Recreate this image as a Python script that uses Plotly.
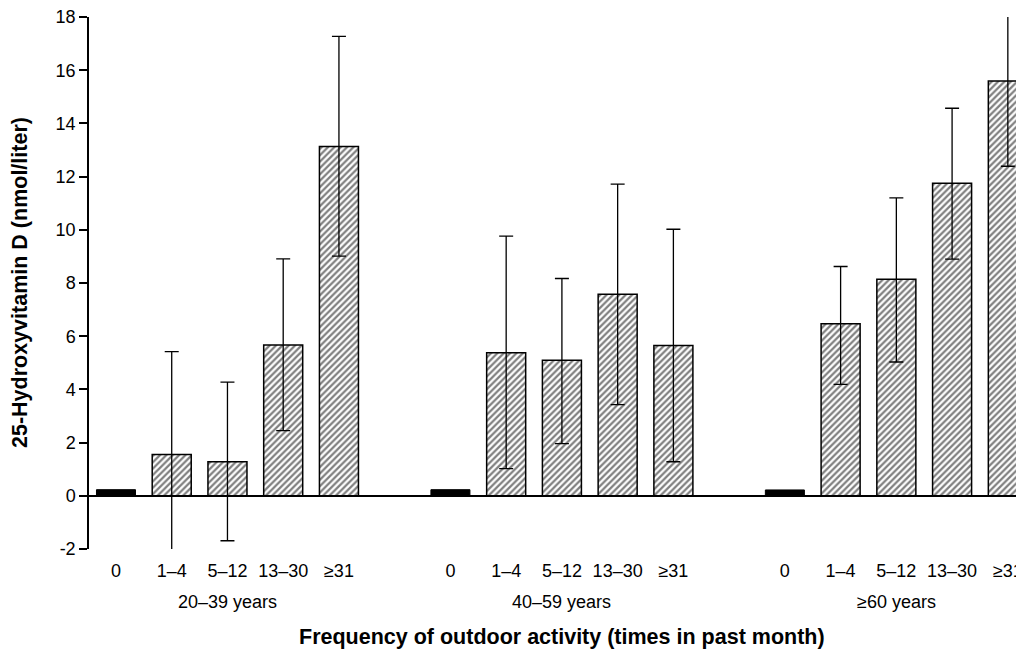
import plotly.graph_objects as go

# Data
groups = ["20\u201339 years", "40\u201359 years", "\u226560 years"]
categories = ["0", "1\u20134", "5\u201312", "13\u201330", "\u226531"]

means = {
    "20\u201339 years": [0.23, 1.55, 1.28, 5.67, 13.13],
    "40\u201359 years": [0.23, 5.38, 5.10, 7.58, 5.65],
    "\u226560 years":   [0.22, 6.47, 8.14, 11.75, 15.59],
}
upper = {
    "20\u201339 years": [0.23, 5.42, 4.27, 8.91, 17.27],
    "40\u201359 years": [0.23, 9.76, 8.17, 11.72, 10.02],
    "\u226560 years":   [0.22, 8.62, 11.20, 14.57, 18.15],
}
lower = {
    "20\u201339 years": [0.23, -2.16, -1.69, 2.45, 9.01],
    "40\u201359 years": [0.23, 1.02, 1.96, 3.43, 1.28],
    "\u226560 years":   [0.22, 4.19, 5.03, 8.90, 12.39],
}

y_ticks = [-2, 0, 2, 4, 6, 8, 10, 12, 14, 16, 18]
y_ticktext = ["-2", "0", "2", "4", "6", "8", "10", "12", "14", "16", "18"]
y_title = "25-Hydroxyvitamin D (nmol/liter)"
x_title = "Frequency of outdoor activity (times in past month)"

FONT = "Liberation Sans, Arial, sans-serif"
gap = 1  # empty slots between groups

fig = go.Figure()
tickvals, ticktext, group_centers = [], [], []
for g, grp in enumerate(groups):
    xs = [g * (len(categories) + gap) + i for i in range(len(categories))]
    tickvals += xs
    ticktext += categories
    group_centers.append(sum(xs) / len(xs))
    m = means[grp]
    # "0" category: solid black
    fig.add_trace(go.Bar(
        x=xs[:1], y=m[:1], width=0.7,
        marker=dict(color="black", line=dict(color="black", width=1)),
        showlegend=False,
    ))
    ep = [u - v for u, v in zip(upper[grp][1:], m[1:])]
    em = [v - l for l, v in zip(lower[grp][1:], m[1:])]
    fig.add_trace(go.Bar(
        x=xs[1:], y=m[1:], width=0.7,
        marker=dict(
            color="white",
            line=dict(color="black", width=1.5),
            pattern=dict(shape="/", size=4.5, solidity=0.5,
                         fgcolor="black", bgcolor="white", fillmode="overlay"),
        ),
        error_y=dict(type="data", symmetric=False, array=ep, arrayminus=em,
                     color="black", thickness=1.3, width=7),
        cliponaxis=False,
        showlegend=False,
    ))

for gc, grp in zip(group_centers, groups):
    fig.add_annotation(x=gc, xref="x", y=0, yref="paper", yanchor="top",
                       yshift=-41, text=grp, showarrow=False,
                       font=dict(family=FONT, size=18, color="black"))

fig.add_annotation(x=group_centers[1], xref="x", y=0, yref="paper", yanchor="top",
                   yshift=-74, text="<b>" + x_title + "</b>", showarrow=False,
                   font=dict(family=FONT, size=21.5, color="black"))

fig.add_annotation(x=0, xref="paper", xshift=-69, y=0.5, yref="paper",
                   text="<b>" + y_title + "</b>", textangle=-90, showarrow=False,
                   xanchor="center", yanchor="middle",
                   font=dict(family=FONT, size=21.5, color="black"))

# page body has an 8px margin, so the figure is 8px smaller and margins are shifted
fig.update_layout(
    width=1016, height=642,
    margin=dict(l=81, r=0, t=9, b=101),
    paper_bgcolor="white", plot_bgcolor="white",
    barmode="overlay",
    font=dict(family=FONT, size=18, color="black"),
    xaxis=dict(range=[-0.484, 16.29], tickvals=tickvals, ticktext=ticktext,
               showgrid=False, zeroline=False, showline=False, ticks="",
               ticklabelstandoff=9, tickfont=dict(size=18), automargin=False,
               ticklabeloverflow="allow"),
    yaxis=dict(range=[-2, 18], tickvals=y_ticks, ticktext=y_ticktext,
               showgrid=False,
               zeroline=True, zerolinecolor="black", zerolinewidth=1.5,
               showline=True, linecolor="black", linewidth=1.5,
               ticks="outside", ticklen=8, tickwidth=1.5, tickcolor="black",
               tickfont=dict(size=18), automargin=False,
               ticklabeloverflow="allow"),
)

fig.write_html("out.html")
